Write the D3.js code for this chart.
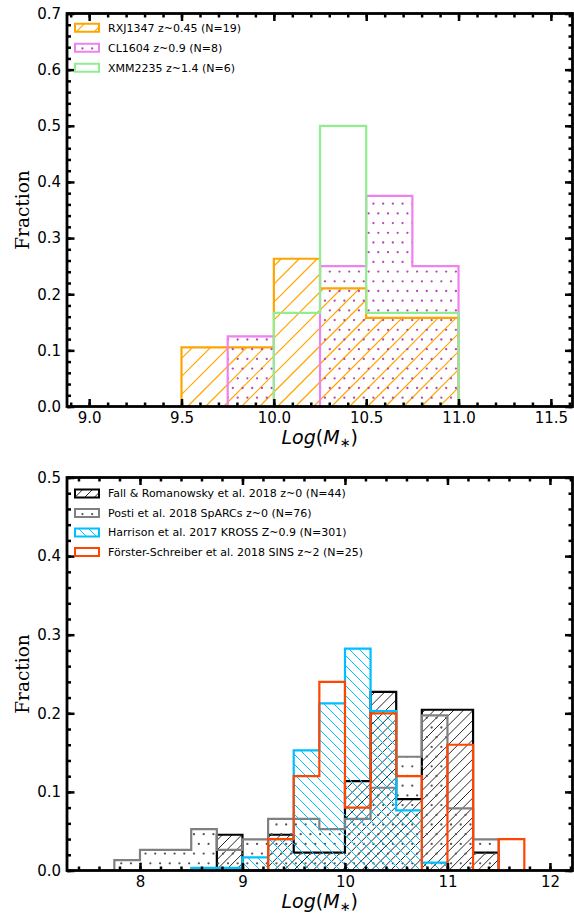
<!DOCTYPE html>
<html>
<head>
<meta charset="utf-8">
<script src="https://cdn.jsdelivr.net/npm/d3@7"></script>
<style>
  body { margin: 0; background: #fff; }
  svg { display: block; }
</style>
</head>
<body>
<svg id="chart" width="574" height="916"></svg>
<script>
// --- data: upper panel (cluster samples), bin width 0.25 in Log(M*) ---
const topBinWidth = 0.25;
const topLabels = ['RXJ1347 z~0.45 (N=19)', 'CL1604 z~0.9 (N=8)', 'XMM2235 z~1.4 (N=6)'];
const topN = [19, 8, 6];
const topStarts = [9.5, 9.75, 10.0];
const rxjCounts = [2, 2, 5, 4, 3, 3];
const clCounts = [1, 0, 2, 3, 2];
const xmmCounts = [1, 3, 1, 1];

// --- data: lower panel (field samples) ---
const botBinWidth = 0.25;
const botLabels = [
  'Fall & Romanowsky et al. 2018 z~0 (N=44)',
  'Posti et al. 2018 SpARCs z~0 (N=76)',
  'Harrison et al. 2017 KROSS Z~0.9 (N=301)',
  'Förster-Schreiber et al. 2018 SINS z~2 (N=25)',
];
const botN = [44, 76, 301, 25];
const botStarts = [8.75, 7.75, 8.5, 9.25];
const fallCounts = [2, 0, 2, 1, 1, 5, 10, 4, 9, 9, 1];
const postiCounts = [1, 2, 2, 4, 2, 3, 5, 5, 4, 5, 8, 11, 15, 6, 3];
const harrisonCounts = [1, 1, 5, 12, 46, 64, 85, 61, 23, 3];
const forsterCounts = [1, 3, 6, 2, 5, 3, 0, 4, 0, 1];

// --- tick labels ---
const topXTicks = [9.0, 9.5, 10.0, 10.5, 11.0, 11.5];
const topYTicks = [0, 0.1, 0.2, 0.3, 0.4, 0.5, 0.6, 0.7];
const botXTicks = [8, 9, 10, 11, 12];
const botYTicks = [0, 0.1, 0.2, 0.3, 0.4, 0.5];

// --- styles ---
const topStyles = [
  { color: '#FFA500', hatch: 'ne', step: 18, hatchColor: '#FFA500', hatchWidth: 1.2 },
  { color: '#EE82EE', hatch: 'dots', step: 9.7, hatchColor: '#b845b8' },
  { color: '#90EE90', hatch: null },
];
const botStyles = [
  { color: '#000000', hatch: 'ne', step: 9.7, hatchColor: '#000', hatchWidth: 0.85 },
  { color: '#808080', hatch: 'dots', step: 9.7, hatchColor: '#555' },
  { color: '#00BFFF', hatch: 'nw', step: 10, hatchColor: '#00BFFF', hatchWidth: 1 },
  { color: '#FF4500', hatch: null },
];

const svg = d3.select('#chart');
const defs = svg.append('defs');
let clipCount = 0;

// hatch marks clipped to a shape; marks are anchored to the page origin
function hatchFill(parent, d, box, st) {
  if (!st.hatch) return;
  const id = `clip-${clipCount++}`;
  defs.append('clipPath').attr('id', id).append('path').attr('d', d);
  const g = parent.append('g').attr('clip-path', `url(#${id})`);
  const s = st.step;
  const [bx0, by0, bx1, by1] = box;
  if (st.hatch === 'ne' || st.hatch === 'nw') {
    const ne = st.hatch === 'ne';
    const cMin = ne ? bx0 + by0 : bx0 - by1;
    const cMax = ne ? bx1 + by1 : bx1 - by0;
    const cs = d3.range(Math.floor(cMin / s) * s, cMax + s, s);
    g.selectAll('line').data(cs).join('line')
      .attr('x1', c => ne ? c - by0 : c + by0).attr('y1', by0)
      .attr('x2', c => ne ? c - by1 : c + by1).attr('y2', by1)
      .style('stroke', st.hatchColor)
      .style('stroke-width', st.hatchWidth);
  } else {
    const pts = [];
    for (let j = Math.floor(by0 / s); j * s <= by1 + s; j++) {
      const off = (j % 2) ? s / 2 : 0;
      for (let i = Math.floor(bx0 / s) - 1; i * s <= bx1 + s; i++) pts.push([i * s + off, j * s]);
    }
    g.selectAll('circle').data(pts).join('circle')
      .attr('cx', p => p[0]).attr('cy', p => p[1]).attr('r', 1.15)
      .attr('fill', st.hatchColor);
  }
}

// step outline of a histogram in data units
function stepPoints(start, width, fracs) {
  const pts = [[start, 0]];
  fracs.forEach((v, i) => {
    pts.push([start + i * width, v]);
    pts.push([start + (i + 1) * width, v]);
  });
  pts.push([start + fracs.length * width, 0]);
  return pts;
}

function tickAxis(g, axis, transform, values, size, fmt) {
  axis.tickValues(values)
    .tickSizeInner(-size)
    .tickSizeOuter(0)
    .tickPadding(fmt ? 6 : 0)
    .tickFormat(fmt || (() => ''));
  const a = g.append('g')
    .attr('transform', transform)
    .call(axis)
    .attr('font-size', 15)
    .attr('font-family', 'DejaVu Sans');
  a.select('.domain').remove();
  a.selectAll('.tick line').attr('stroke', '#000').attr('stroke-width', 2.5);
  a.selectAll('.tick text').attr('fill', '#000');
}

function drawPanel(cfg) {
  const g = svg.append('g');
  const x = d3.scaleLinear().domain(cfg.xDomain).range([67, 572.5]);
  const y = d3.scaleLinear().domain(cfg.yDomain).range(cfg.yRange);
  const [x0, x1] = x.range();
  const [yb, yt] = y.range();

  const line = d3.line().x(d => x(d[0])).y(d => y(d[1]));

  cfg.series.forEach(s => {
    const pts = stepPoints(s.start, cfg.binWidth, s.fracs);
    const d = line(pts);
    const box = [x(pts[0][0]), y(d3.max(s.fracs)), x(pts[pts.length - 1][0]), y(0)];
    hatchFill(g, d + 'Z', box, s.style);
    g.append('path')
      .attr('d', d)
      .attr('fill', 'none')
      .attr('stroke', s.style.color)
      .attr('stroke-width', 2.2);
  });

  // ticks: inward on all four sides, minor then major
  tickAxis(g, d3.axisBottom(x), `translate(0,${yb})`, cfg.xMinor, 4);
  tickAxis(g, d3.axisTop(x), `translate(0,${yt})`, cfg.xMinor, 4);
  tickAxis(g, d3.axisLeft(y), `translate(${x0},0)`, cfg.yMinor, 4);
  tickAxis(g, d3.axisRight(y), `translate(${x1},0)`, cfg.yMinor, 4);
  tickAxis(g, d3.axisBottom(x), `translate(0,${yb})`, cfg.xTicks, 7.5, cfg.xFmt);
  tickAxis(g, d3.axisTop(x), `translate(0,${yt})`, cfg.xTicks, 7.5);
  tickAxis(g, d3.axisLeft(y), `translate(${x0},0)`, cfg.yTicks, 7.5, d3.format('.1f'));
  tickAxis(g, d3.axisRight(y), `translate(${x1},0)`, cfg.yTicks, 7.5);

  // frame
  g.append('rect')
    .attr('x', x0).attr('y', yt)
    .attr('width', x1 - x0).attr('height', yb - yt)
    .attr('fill', 'none').attr('stroke', '#000').attr('stroke-width', 2.8);

  // x label: Log(M_*)
  const xl = g.append('text')
    .attr('x', (x0 + x1) / 2).attr('y', yb + 37.5)
    .attr('text-anchor', 'middle')
    .attr('font-family', 'DejaVu Sans').attr('font-size', 19).attr('fill', '#000');
  xl.append('tspan').attr('font-style', 'italic').text('Log');
  xl.append('tspan').text('(');
  xl.append('tspan').attr('font-style', 'italic').text('M');
  xl.append('tspan').attr('font-size', 13).attr('dy', 3).text('\u2217');
  xl.append('tspan').attr('dy', -3).text(')');

  // y label
  g.append('text')
    .attr('transform', `translate(29,${(yb + yt) / 2}) rotate(-90)`)
    .attr('text-anchor', 'middle')
    .attr('font-family', 'DejaVu Serif').attr('font-size', 18.5).attr('fill', '#000')
    .text('Fraction');

  // legend
  cfg.series.forEach((s, i) => {
    const cy = cfg.legendY + i * cfg.legendStep;
    const rd = `M75,${cy - 4}h24v8h-24Z`;
    hatchFill(g, rd, [75, cy - 4, 99, cy + 4], s.style);
    g.append('path')
      .attr('d', rd)
      .attr('fill', 'none')
      .attr('stroke', s.style.color).attr('stroke-width', 2);
    g.append('text')
      .attr('x', 108).attr('y', cy).attr('dy', '0.35em')
      .attr('font-family', 'DejaVu Sans').attr('font-size', 11).attr('fill', '#000')
      .text(s.label);
  });
}

const topCounts = [rxjCounts, clCounts, xmmCounts];
drawPanel({
  xDomain: [8.88, 11.617],
  yDomain: [0, 0.7],
  yRange: [406.5, 13.5],
  binWidth: topBinWidth,
  xTicks: topXTicks,
  xMinor: d3.range(89, 117).map(d => d / 10),
  yTicks: topYTicks,
  yMinor: d3.range(0, 36).map(d => d / 50),
  xFmt: d3.format('.1f'),
  legendY: 27.8,
  legendStep: 20,
  series: topCounts.map((c, i) => ({
    label: topLabels[i],
    start: topStarts[i],
    fracs: c.map(v => v / topN[i]),
    style: topStyles[i],
  })),
});

const botCounts = [fallCounts, postiCounts, harrisonCounts, forsterCounts];
drawPanel({
  xDomain: [7.288, 12.22],
  yDomain: [0, 0.5],
  yRange: [870.5, 477.5],
  binWidth: botBinWidth,
  xTicks: botXTicks,
  xMinor: d3.range(37, 62).map(d => d / 5),
  yTicks: botYTicks,
  yMinor: d3.range(0, 26).map(d => d / 50),
  xFmt: d3.format('d'),
  legendY: 493.5,
  legendStep: 19.5,
  series: botCounts.map((c, i) => ({
    label: botLabels[i],
    start: botStarts[i],
    fracs: c.map(v => v / botN[i]),
    style: botStyles[i],
  })),
});
</script>
</body>
</html>
